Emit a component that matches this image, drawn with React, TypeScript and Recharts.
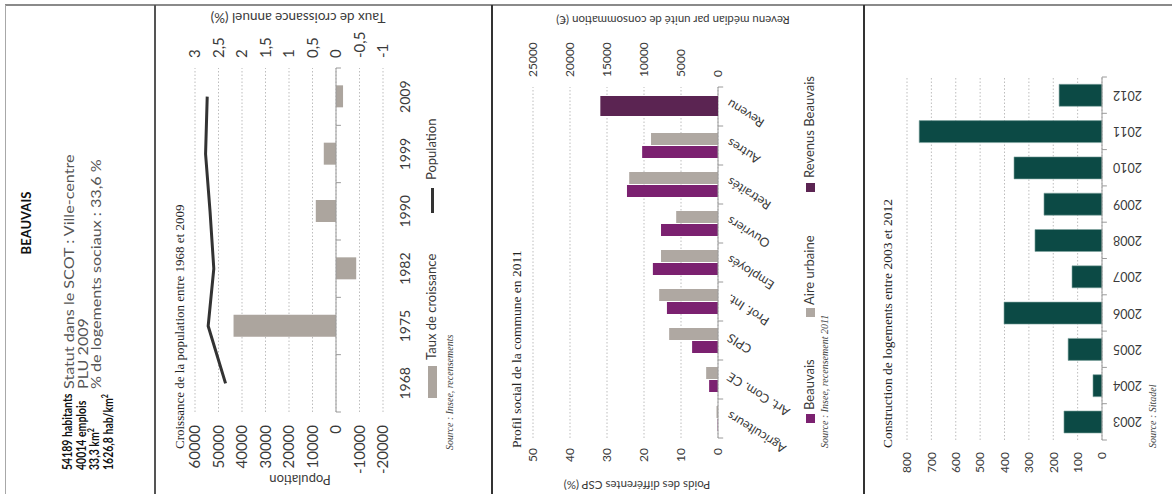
import React from 'react';
import {
  ComposedChart,
  BarChart,
  Bar,
  Line,
  XAxis,
  YAxis,
  CartesianGrid,
  ReferenceLine,
  Text,
} from 'recharts';

// ---------- data ----------
const popYears = ['1968', '1975', '1982', '1990', '1999', '2009'];
const popValues = [47000, 54400, 52000, 53600, 55500, 54800];
const growthValues: (number | null)[] = [null, 2.18, -0.43, 0.43, 0.26, -0.15];
const popTicks = [-20000, -10000, 0, 10000, 20000, 30000, 40000, 50000, 60000];
const growthTicks = [-1, -0.5, 0, 0.5, 1, 1.5, 2, 2.5, 3];

const cspCategories = ['Agriculteurs', 'Art. Com. CE', 'CPIS', 'Prof. Int.', 'Employés', 'Ouvriers', 'Retraités', 'Autres', 'Revenu'];
const beauvaisValues: (number | null)[] = [0.1, 2.4, 7.0, 13.8, 17.6, 15.4, 24.6, 20.5, null];
const aireValues: (number | null)[] = [0.4, 3.2, 13.2, 15.9, 15.4, 11.3, 24.0, 18.1, null];
const revenuValues: (number | null)[] = [null, null, null, null, null, null, null, null, 15900];
const cspTicks = [0, 10, 20, 30, 40, 50];
const revenuTicks = [0, 5000, 10000, 15000, 20000, 25000];

const housingYears = ['2003', '2004', '2005', '2006', '2007', '2008', '2009', '2010', '2011', '2012'];
const housingValues = [156, 37, 139, 402, 123, 275, 238, 361, 750, 176];
const housingTicks = [0, 100, 200, 300, 400, 500, 600, 700, 800];

const popData = popYears.map((year, i) => ({ year, population: popValues[i], growth: growthValues[i] }));
const cspData = cspCategories.map((cat, i) => ({ cat, beauvais: beauvaisValues[i], aire: aireValues[i], revenu: revenuValues[i] }));
const housingData = housingYears.map((year, i) => ({ year, value: housingValues[i] }));

// ---------- styles ----------
const SANS = "Lato, 'Open Sans', sans-serif";
const SERIF = "'Liberation Serif', 'DejaVu Serif', serif";
const TXT = '#3a3a3a';
const GRID = '#bdbdbd';
const AXIS = '#9a9a9a';
const fmtComma = (v: number) => String(v).replace('.', ',');

const axisTitle = (value: string, dx: number, dy: number, fontSize: number) => (props: any) => {
  const vb = props.viewBox || { x: 0, y: 0, width: 0, height: 0 };
  const x = vb.x + dx;
  const y = vb.y + vb.height / 2 + dy;
  return (
    <text
      x={x}
      y={y}
      transform={`rotate(-90 ${x} ${y})`}
      textAnchor="middle"
      dominantBaseline="central"
      fontSize={fontSize}
      fill={TXT}
      fontFamily={SANS}
    >
      {value}
    </text>
  );
};

function T({ x, y, size, family = SANS, weight = 400, italic = false, color = TXT, anchorCenter = false, children }: any) {
  return (
    <div
      style={{
        position: 'absolute',
        left: x,
        top: y - size * 0.6,
        fontSize: size,
        lineHeight: `${size * 1.2}px`,
        fontFamily: family,
        fontWeight: weight,
        fontStyle: italic ? 'italic' : 'normal',
        color,
        whiteSpace: 'nowrap',
        transform: anchorCenter ? 'translateX(-50%)' : undefined,
      }}
    >
      {children}
    </div>
  );
}

function Rotated({ left, width, children }: any) {
  return (
    <div style={{ position: 'absolute', left, top: 0, width, height: 494, overflow: 'hidden' }}>
      <div
        style={{
          position: 'absolute',
          left: 0,
          top: 0,
          width: 494,
          height: width,
          transformOrigin: '0 0',
          transform: 'translateY(494px) rotate(-90deg)',
        }}
      >
        {children}
      </div>
    </div>
  );
}

const HousingTick = (props: any) => (
  <Text
    x={props.x}
    y={props.y}
    angle={-90}
    textAnchor="end"
    verticalAnchor="middle"
    fontSize={12.5}
    fill={TXT}
    fontFamily={SANS}
  >
    {props.payload.value}
  </Text>
);

function PopChart() {
  const last = popYears[popYears.length - 1];
  return (
    <ComposedChart width={494} height={337} data={popData} margin={{ top: 40, right: 28, bottom: 79, left: 22 }}>
      <CartesianGrid yAxisId="pop" vertical={false} stroke={GRID} strokeDasharray="1.5 2" />
      <XAxis
        dataKey="year"
        interval={0}
        height={30}
        axisLine={false}
        tickLine={false}
        tickMargin={11}
        tick={{ fontSize: 14, fill: TXT, fontFamily: SANS }}
      />
      <YAxis
        yAxisId="pop"
        domain={[-20000, 60000]}
        ticks={popTicks}
        width={60}
        axisLine={false}
        tickLine={false}
        tickMargin={7}
        tick={{ fontSize: 15, fill: TXT, fontFamily: SANS }}
        label={{ content: axisTitle('Population', -8, 11, 13) }}
      />
      <YAxis
        yAxisId="rate"
        orientation="right"
        domain={[-1, 3]}
        ticks={growthTicks}
        width={40}
        axisLine={false}
        tickLine={false}
        tickMargin={4}
        tickFormatter={fmtComma}
        tick={{ fontSize: 15, fill: TXT, fontFamily: SANS }}
        label={{ content: axisTitle('Taux de croissance annuel (%)', 50, 9, 13.5) }}
      />
      <ReferenceLine yAxisId="pop" y={0} stroke={AXIS} />
      {popYears.map((yr) => (
        <ReferenceLine key={yr} yAxisId="pop" segment={[{ x: yr, y: 0 }, { x: yr, y: -2100 }]} position="start" stroke={AXIS} />
      ))}
      <ReferenceLine yAxisId="pop" segment={[{ x: last, y: 0 }, { x: last, y: -2100 }]} position="end" stroke={AXIS} />
      <Bar yAxisId="rate" dataKey="growth" fill="#aca59e" barSize={22} isAnimationActive={false} />
      <Line yAxisId="pop" dataKey="population" stroke="#333333" strokeWidth={3} dot={false} isAnimationActive={false} />
    </ComposedChart>
  );
}

const cspMargin = { top: 41, right: 37, bottom: 116, left: 16 };

function CspChart() {
  const last = cspCategories[cspCategories.length - 1];
  return (
    <BarChart width={494} height={372} data={cspData} margin={cspMargin} barGap={1}>
      <CartesianGrid yAxisId="pct" vertical={false} stroke={GRID} strokeDasharray="1.5 2" />
      <XAxis
        dataKey="cat"
        interval={0}
        height={30}
        axisLine={{ stroke: AXIS }}
        tickLine={false}
        tickMargin={2}
        angle={-58}
        textAnchor="end"
        tick={{ fontSize: 12.5, fill: TXT, fontFamily: SANS }}
      />
      <YAxis
        yAxisId="pct"
        domain={[0, 50]}
        ticks={cspTicks}
        width={40}
        axisLine={false}
        tickLine={false}
        tickMargin={4}
        tick={{ fontSize: 12, fill: TXT, fontFamily: SANS }}
        label={{ content: axisTitle('Poids des différentes CSP (%)', -7, 11.5, 11.5) }}
      />
      <YAxis yAxisId="rev" orientation="right" domain={[0, 25000]} ticks={revenuTicks} width={50} axisLine={false} tickLine={false} tick={false} />
      {cspCategories.map((c) => (
        <ReferenceLine key={c} yAxisId="pct" segment={[{ x: c, y: 0 }, { x: c, y: -1.4 }]} position="start" ifOverflow="visible" stroke={AXIS} />
      ))}
      <ReferenceLine yAxisId="pct" segment={[{ x: last, y: 0 }, { x: last, y: -1.4 }]} position="end" ifOverflow="visible" stroke={AXIS} />
      <Bar yAxisId="pct" dataKey="beauvais" fill="#7b2170" barSize={12} isAnimationActive={false} />
      <Bar yAxisId="pct" dataKey="aire" fill="#afa8a2" barSize={12} isAnimationActive={false} />
    </BarChart>
  );
}

function RevenuChart() {
  return (
    <BarChart width={494} height={372} data={cspData} margin={cspMargin}>
      <XAxis dataKey="cat" interval={0} height={30} axisLine={false} tickLine={false} tick={false} />
      <YAxis yAxisId="pct" domain={[0, 50]} ticks={cspTicks} width={40} axisLine={false} tickLine={false} tick={false} />
      <YAxis
        yAxisId="rev"
        orientation="right"
        domain={[0, 25000]}
        ticks={revenuTicks}
        width={50}
        axisLine={false}
        tickLine={false}
        tickMargin={4}
        tick={{ fontSize: 12, fill: TXT, fontFamily: SANS }}
        label={{ content: axisTitle('Revenu médian par unité de consommation (€)', 67, 47.5, 11.5) }}
      />
      <Bar yAxisId="rev" dataKey="revenu" fill="#5b2452" barSize={20} isAnimationActive={false} />
    </BarChart>
  );
}

function HousingChart() {
  const last = housingYears[housingYears.length - 1];
  return (
    <BarChart width={494} height={308} data={housingData} margin={{ top: 43, right: 77, bottom: 40, left: 10 }}>
      <CartesianGrid vertical={false} stroke={GRID} strokeDasharray="1.5 2" />
      <XAxis dataKey="year" interval={0} height={30} axisLine={{ stroke: AXIS }} tickLine={false} tickMargin={5} tick={HousingTick} />
      <YAxis
        domain={[0, 800]}
        ticks={housingTicks}
        width={44}
        axisLine={false}
        tickLine={false}
        tickMargin={6}
        tick={{ fontSize: 12, fill: TXT, fontFamily: SANS }}
      />
      {housingYears.map((yr) => (
        <ReferenceLine key={yr} segment={[{ x: yr, y: 0 }, { x: yr, y: -20 }]} position="start" ifOverflow="visible" stroke={AXIS} />
      ))}
      <ReferenceLine segment={[{ x: last, y: 0 }, { x: last, y: -20 }]} position="end" ifOverflow="visible" stroke={AXIS} />
      <Bar dataKey="value" fill="#0c4a45" stroke="#7fa5a0" strokeWidth={0.6} barSize={22} isAnimationActive={false} />
    </BarChart>
  );
}

const Sq = ({ x, y, w, h, color }: any) => (
  <div style={{ position: 'absolute', left: x, top: y - h / 2, width: w, height: h, background: color }} />
);

const sup = { fontSize: 8.5, verticalAlign: 'super', lineHeight: 0 } as const;

export default function App() {
  return (
    <div style={{ position: 'relative', width: 1172, height: 494, background: '#fff', overflow: 'hidden' }}>
      <style>{'body{margin:0;background:#fff;}'}</style>

      {/* column 1: info */}
      <Rotated left={0} width={155}>
        <T x={271} y={27} size={13} weight={700} color="#111" anchorCenter>BEAUVAIS</T>
        <div
          style={{
            position: 'absolute',
            left: 24,
            top: 61,
            fontFamily: SANS,
            fontWeight: 700,
            fontSize: 12.5,
            lineHeight: '13.7px',
            color: '#111',
            whiteSpace: 'nowrap',
            transformOrigin: '0 0',
            transform: 'scaleX(0.84)',
          }}
        >
          <div>54189 habitants</div>
          <div>40014 emplois</div>
          <div>33,3 km<span style={sup}>2</span></div>
          <div>1626,8 hab/km<span style={sup}>2</span></div>
        </div>
        <div
          style={{
            position: 'absolute',
            left: 105,
            top: 63,
            fontFamily: SANS,
            fontWeight: 400,
            fontSize: 12.5,
            lineHeight: '13.6px',
            color: '#555',
            whiteSpace: 'nowrap',
            transformOrigin: '0 0',
            transform: 'scaleX(1.29)',
          }}
        >
          <div>Statut dans le SCOT : Ville-centre</div>
          <div>PLU 2009</div>
          <div>% de logements sociaux : 33,6 %</div>
        </div>
      </Rotated>

      {/* column 2: population */}
      <Rotated left={155} width={337}>
        <div style={{ position: 'absolute', left: 0, top: 0 }}>
          <PopChart />
        </div>
        <T x={45} y={25} size={13} family={SERIF} color="#222">Croissance de la population entre 1968 et 2009</T>
        <Sq x={96} y={277} w={32} h={9} color="#aca59e" />
        <T x={134} y={277} size={13}>Taux de croissance</T>
        <Sq x={281} y={277} w={25} h={3} color="#333" />
        <T x={314} y={277} size={13}>Population</T>
        <T x={44} y={295} size={10} family={SERIF} italic color="#444">Source : Insee, recensements</T>
      </Rotated>

      {/* column 3: social profile */}
      <Rotated left={492} width={372}>
        <div style={{ position: 'absolute', left: 0, top: 0 }}>
          <CspChart />
        </div>
        <div style={{ position: 'absolute', left: 0, top: 0 }}>
          <RevenuChart />
        </div>
        <T x={46} y={25} size={13.5} family={SERIF} color="#222">Profil social de la commune en 2011</T>
        <Sq x={71} y={318} w={9} h={9} color="#7b2170" />
        <T x={84} y={318} size={13}>Beauvais</T>
        <Sq x={177} y={318} w={9} h={9} color="#afa8a2" />
        <T x={189} y={318} size={13}>Aire urbaine</T>
        <Sq x={302} y={318} w={9} h={9} color="#5b2452" />
        <T x={316} y={318} size={13}>Revenus Beauvais</T>
        <T x={46} y={333} size={10} family={SERIF} italic color="#444">Source : Insee, recensement 2011</T>
      </Rotated>

      {/* column 4: housing */}
      <Rotated left={864} width={308}>
        <div style={{ position: 'absolute', left: 0, top: 0 }}>
          <HousingChart />
        </div>
        <T x={46} y={24} size={13.5} family={SERIF} color="#222">Construction de logements entre 2003 et 2012</T>
        <T x={46} y={289} size={10} family={SERIF} italic color="#444">Source : Sitadel</T>
      </Rotated>

      {/* frame */}
      <div style={{ position: 'absolute', left: 5, top: 4, width: 1167, height: 2, background: '#8a8a8a' }} />
      <div style={{ position: 'absolute', left: 5, top: 5, width: 1, height: 489, background: '#a8a8a8' }} />
      <div style={{ position: 'absolute', left: 154, top: 5, width: 2, height: 489, background: '#555' }} />
      <div style={{ position: 'absolute', left: 491, top: 5, width: 1.5, height: 489, background: '#333' }} />
      <div style={{ position: 'absolute', left: 863, top: 5, width: 1.5, height: 489, background: '#333' }} />
    </div>
  );
}
